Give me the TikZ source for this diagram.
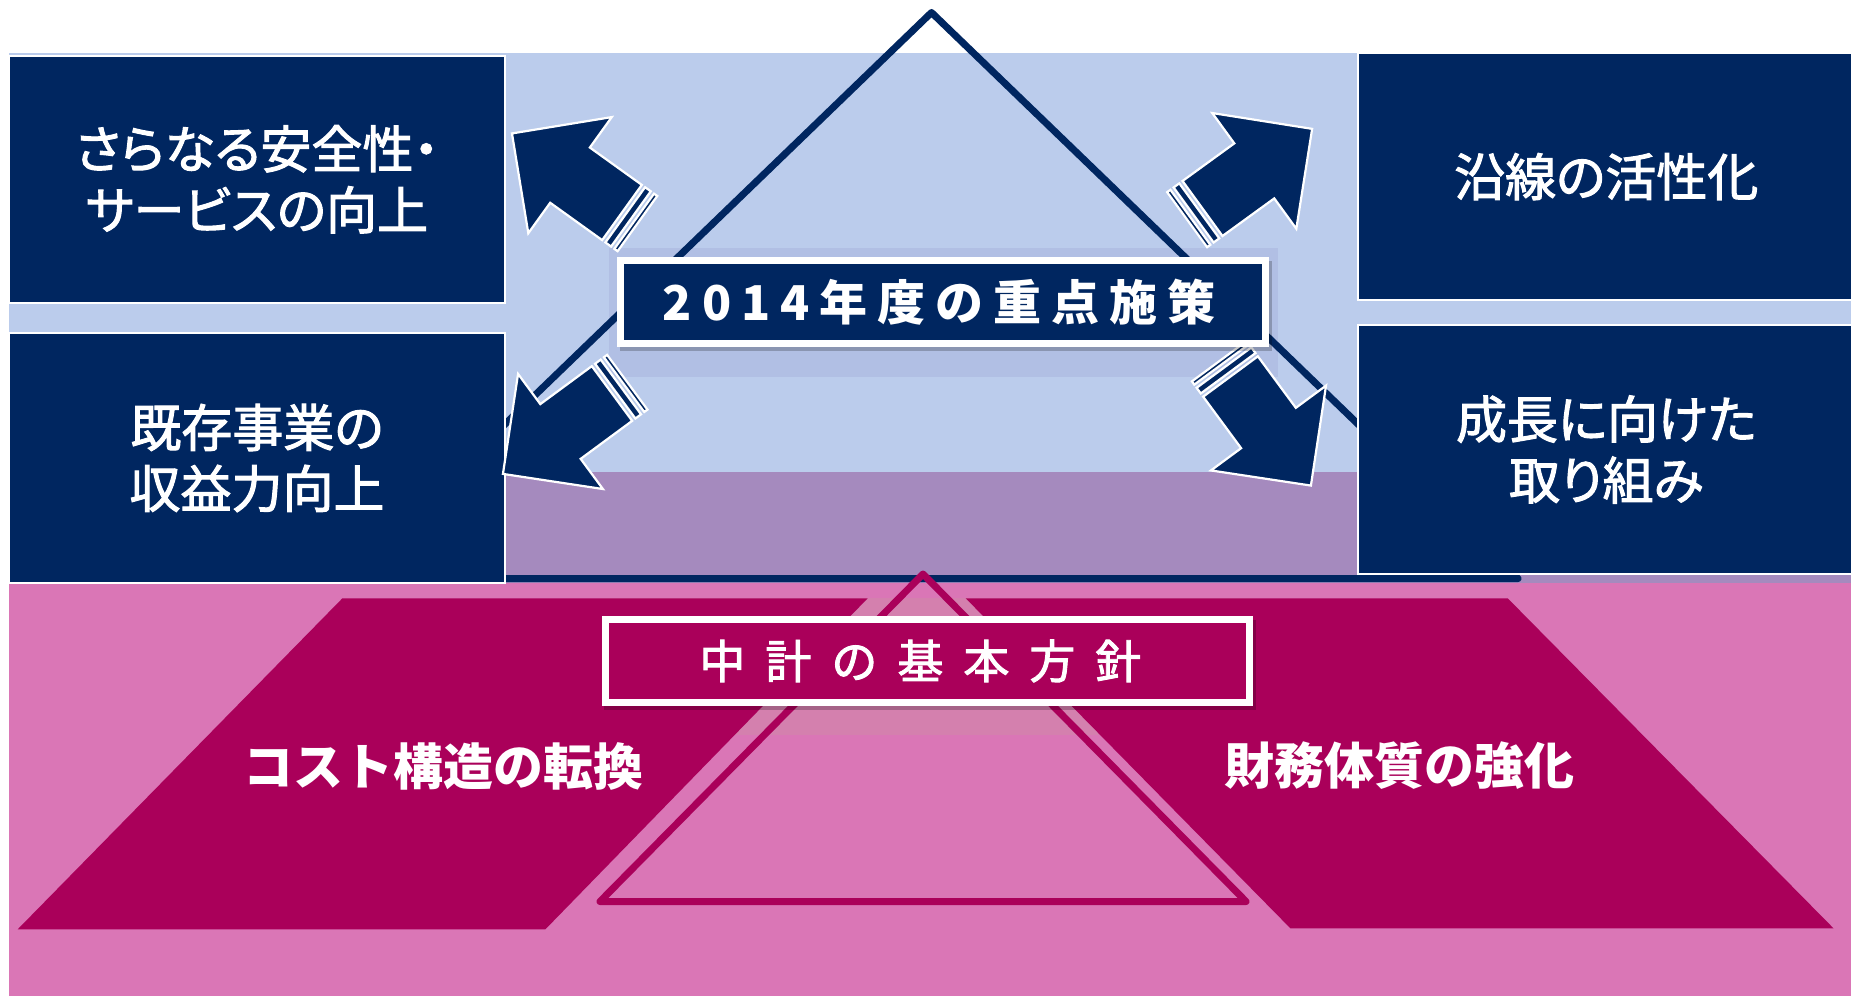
\documentclass[tikz,border=0pt]{standalone}
\usepackage{fontspec}
\newfontfamily\jp{Noto Sans CJK JP}
\newfontfamily\jpm[FakeBold=2]{Noto Sans CJK JP}
\newfontfamily\jpp[FakeBold=2,RawFeature={+palt}]{Noto Sans CJK JP}
\definecolor{navy}{RGB}{0,38,96}
\definecolor{skyband}{RGB}{187,204,236}
\definecolor{haloblue}{RGB}{177,191,228}
\definecolor{bandpurple}{RGB}{165,138,190}
\definecolor{pinkbg}{RGB}{218,118,182}
\definecolor{pinkhalo}{RGB}{212,128,174}
\definecolor{deepmag}{RGB}{170,0,90}
\tikzset{
  bluebox/.style={draw=white, line width=1pt, fill=navy, text=white, align=center,
    inner sep=0pt, font=\jpp\fontsize{25.5}{30.5}\selectfont},
  arrowpart/.style={fill=navy, draw=white, line width=1.1pt, line join=miter},
  navylabel/.style={draw=white, line width=3.5pt, fill=navy, text=white, inner sep=0pt,
    minimum width=322.5pt, minimum height=41.5pt, font=\jp\bfseries\fontsize{24}{28}\selectfont},
  maglabel/.style={draw=white, line width=3.5pt, fill=deepmag, text=white, inner sep=0pt,
    minimum width=322.2pt, minimum height=41.5pt, font=\jpm\fontsize{23}{28}\selectfont},
  trapfill/.style={fill=deepmag},
  traptext/.style={text=white, inner sep=0pt, font=\jp\bfseries\fontsize{25}{30}\selectfont},
  labelshadow/.style={fill=black, opacity=0.22}
}
\newcommand\blockarrow[2]{%
  \begin{scope}[shift={#1}, rotate=#2]
    \filldraw[arrowpart] (0,-34) -- (64,-34) -- (64,-71.5) -- (135.5,0) -- (64,71.5) -- (64,34) -- (0,34) -- cycle;
    \filldraw[arrowpart] (-4,-34) rectangle (-11,34);
    \filldraw[arrowpart] (-15,-34) rectangle (-19,34);
  \end{scope}}
\begin{document}
\begin{tikzpicture}[x=0.5pt, y=-0.5pt]
\clip (0,0) rectangle (1851,996);
\fill[white] (0,0) rectangle (1851,996);
% background bands
\fill[skyband] (9,53) rectangle (1851,472);
\fill[bandpurple] (9,471.5) rectangle (1851,583);
\fill[pinkbg] (9,583) rectangle (1851,996);
% halo behind the upper label
\fill[haloblue] (609,248) rectangle (1278,377);
% large navy triangle
\draw[navy, line width=3.5pt, line join=round] (931.5,12.5) -- (1518,578.5) -- (345,578.5) -- cycle;
% boxes
\node[bluebox, minimum width=248pt, minimum height=123.75pt] (safety) at (257,179.25) {さらなる安全性・\\サービスの向上};
\node[bluebox, minimum width=248pt, minimum height=125pt] (profit) at (257,458) {既存事業の\\収益力向上};
\node[bluebox, minimum width=248.75pt, minimum height=123.7pt] (line) at (1606.25,176.6) {沿線の活性化};
\node[bluebox, minimum width=248.75pt, minimum height=124.5pt] (growth) at (1606.25,449.5) {成長に向けた\\取り組み};
% block arrows
\blockarrow{(622,212.5)}{144.3}
\blockarrow{(1202.5,208.5)}{36}
\blockarrow{(612,393.5)}{216.4}
\blockarrow{(1230.5,376.5)}{-53.6}
% upper label
\fill[labelshadow] (620,261) rectangle (1272,351);
\node[navylabel] (focus) at (943.3,302.2) {2\kern5pt 0\kern5pt 1\kern5pt 4\kern5pt 年\kern5pt 度\kern5pt の\kern5pt 重\kern5pt 点\kern5pt 施\kern5pt 策\kern4pt};
% lower part
\fill[pinkhalo] (601,598) rectangle (1253,735);
\fill[trapfill] (342.4,598.3) -- (867.7,598.3) -- (545.4,929.3) -- (17.7,929.3) -- cycle;
\fill[trapfill] (965.7,598.3) -- (1507.7,598.3) -- (1833.5,928.3) -- (1290.4,928.3) -- cycle;
\draw[deepmag, line width=3.5pt, line join=round] (923,574) -- (1246,901.5) -- (600,901.5) -- cycle;
\node[traptext] (cost) at (443,766) {コスト構造の転換};
\node[traptext] (finance) at (1399,766) {財務体質の強化};
\fill[labelshadow] (604,620) rectangle (1256,710);
\node[maglabel] (policy) at (927.4,661) {中\kern10pt 計\kern10pt の\kern10pt 基\kern10pt 本\kern10pt 方\kern10pt 針\kern7pt};
\end{tikzpicture}
\end{document}
